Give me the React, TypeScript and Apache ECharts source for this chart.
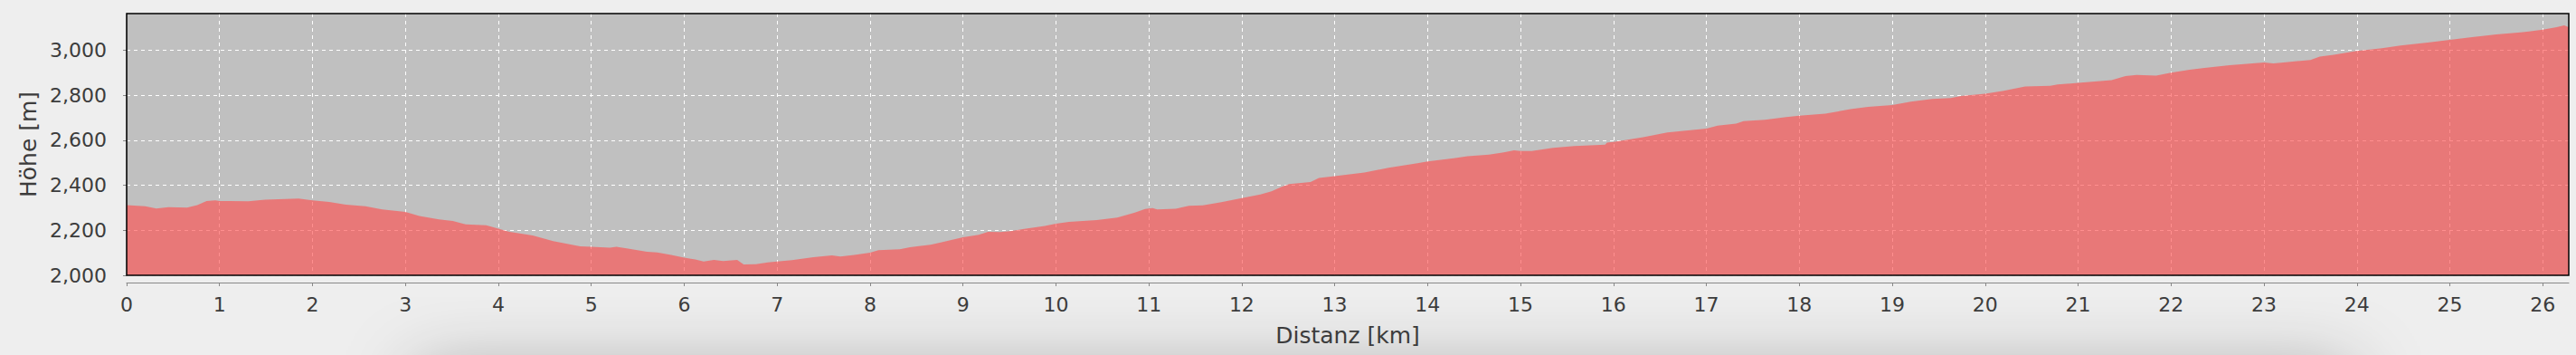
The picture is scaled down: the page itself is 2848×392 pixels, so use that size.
import React, { useEffect, useRef } from "react";
import * as echarts from "echarts";

// Distance along the route (km)
const distanceKm = [
  0, 0.2, 0.32, 0.45, 0.65, 0.76, 0.86, 0.955, 1.0, 1.31, 1.49, 1.78, 1.85, 2.0,
  2.18, 2.36, 2.57, 2.75, 3.0, 3.15, 3.36, 3.51, 3.65, 3.87, 4.0, 4.12, 4.37, 4.59,
  4.88, 5.0, 5.2, 5.27, 5.38, 5.6, 5.71, 5.86, 6.0, 6.12, 6.21, 6.32, 6.42, 6.57,
  6.64, 6.77, 6.9, 7.0, 7.16, 7.39, 7.59, 7.68, 7.83, 8.0, 8.09, 8.32, 8.43, 8.65,
  8.76, 9.0, 9.17, 9.27, 9.4, 9.51, 9.66, 9.88, 10.0, 10.14, 10.44, 10.66, 10.85,
  10.96, 11.04, 11.09, 11.29, 11.43, 11.58, 11.78, 12.0, 12.2, 12.32, 12.43, 12.51,
  12.74, 12.83, 13.0, 13.32, 13.58, 13.89, 14.0, 14.28, 14.43, 14.66, 14.82, 14.93,
  15.0, 15.12, 15.35, 15.58, 15.91, 15.93, 16.0, 16.32, 16.58, 17.0, 17.12, 17.32,
  17.4, 17.63, 17.86, 18.0, 18.28, 18.55, 18.74, 19.0, 19.2, 19.43, 19.63, 19.74,
  20.0, 20.2, 20.43, 20.7, 20.78, 21.0, 21.36, 21.51, 21.63, 21.84, 22.0, 22.2,
  22.36, 22.63, 23.0, 23.1, 23.21, 23.39, 23.5, 23.6, 23.75, 24.0, 24.27, 24.47,
  24.76, 25.0, 25.24, 25.5, 25.76, 26.0, 26.15, 26.23, 26.28,
];

// Elevation (m)
const elevationM = [
  2312, 2307, 2297, 2303, 2301, 2312, 2330, 2333, 2330, 2329, 2336, 2340, 2341, 2333,
  2326, 2314, 2307, 2293, 2282, 2264, 2248, 2241, 2226, 2222, 2207, 2193, 2177, 2152,
  2129, 2127, 2123, 2127, 2120, 2105, 2102, 2091, 2078, 2070, 2061, 2068, 2063, 2068,
  2048, 2049, 2057, 2061, 2067, 2080, 2089, 2084, 2091, 2101, 2112, 2116, 2125, 2136,
  2146, 2169, 2180, 2193, 2192, 2196, 2206, 2219, 2229, 2237, 2245, 2257, 2279,
  2295, 2299, 2293, 2296, 2309, 2311, 2325, 2343, 2359, 2373, 2393, 2405,
  2414, 2433, 2441, 2457, 2478, 2498, 2506, 2520, 2529, 2536, 2546, 2555,
  2552, 2552, 2566, 2574, 2580, 2590, 2593, 2614, 2635, 2652, 2665, 2674,
  2685, 2691, 2703, 2709, 2718, 2738, 2749, 2757, 2772, 2784, 2788, 2797,
  2807, 2820, 2839, 2842, 2848, 2855, 2867, 2885, 2890, 2887, 2900, 2914,
  2922, 2934, 2946, 2942, 2946, 2953, 2957, 2972, 2980, 2997, 3009, 3021,
  3034, 3046, 3058, 3070, 3079, 3092, 3103, 3111, 3103,
];

const xTicks = Array.from({ length: 27 }, (_, i) => i); // 0..26 km
const yTicks = [2000, 2200, 2400, 2600, 2800, 3000];

const X_MIN = 0;
const X_MAX = 26.28;
const Y_MIN = 2000;
const Y_MAX = 3163;

const FONT = "DejaVu Sans";
const TEXT = "#3c3c3c";
const AXIS = "#888888";

export default function App() {
  const ref = useRef<HTMLDivElement>(null);

  useEffect(() => {
    if (!ref.current) return;
    const chart = echarts.init(ref.current, undefined, { renderer: "svg" });
    const GL = 140, GT = 15, GR = 8, GB = 88;
    const W = 2848, H = 392;
    chart.setOption({
      animation: false,
      backgroundColor: "#eeeeee",
      grid: {
        left: GL,
        top: GT,
        right: GR,
        bottom: GB,
        show: true,
        backgroundColor: "#c0c0c0",
        borderWidth: 0,
      },
      xAxis: {
        type: "value",
        min: X_MIN,
        max: X_MAX,
        interval: 1,
        offset: 8,
        name: "Distanz [km]",
        nameLocation: "middle",
        nameGap: 46,
        nameTextStyle: { fontFamily: FONT, fontSize: 25, color: TEXT },
        axisLine: { show: true, lineStyle: { color: AXIS, width: 1 } },
        axisTick: { show: true, length: 4, lineStyle: { color: AXIS }, customValues: xTicks },
        axisLabel: {
          fontFamily: FONT,
          fontSize: 22,
          color: TEXT,
          margin: 13,
          customValues: xTicks,
        },
        splitLine: { show: true, lineStyle: { color: "#ffffff", width: 1, type: [4, 4] } },
      },
      yAxis: {
        type: "value",
        min: Y_MIN,
        max: Y_MAX,
        interval: 200,
        offset: 8,
        name: "Höhe [m]",
        nameLocation: "middle",
        nameGap: 88,
        nameTextStyle: { fontFamily: FONT, fontSize: 25, color: TEXT },
        axisLine: { show: true, lineStyle: { color: AXIS, width: 1 } },
        axisTick: { show: true, length: 4, lineStyle: { color: AXIS }, customValues: yTicks },
        axisLabel: {
          fontFamily: FONT,
          fontSize: 22,
          color: TEXT,
          margin: 14,
          customValues: yTicks,
          formatter: (v: number) => v.toLocaleString("en-US"),
        },
        splitLine: { show: true, lineStyle: { color: "#ffffff", width: 1, type: [4, 4] } },
      },
      graphic: [
        {
          type: "rect",
          z: -10,
          silent: true,
          shape: { x: 460, y: 408, width: 2140, height: 80 },
          style: {
            fill: "#aaaaaa",
            shadowBlur: 80,
            shadowColor: "rgba(0, 0, 0, 0.3)",
          },
        },
        {
          type: "rect",
          z: 100,
          silent: true,
          shape: { x: GL, y: GT, width: W - GL - GR, height: H - GT - GB },
          style: { fill: "none", stroke: "#000000", lineWidth: 1.5 },
        },
      ],
      series: [
        {
          type: "line",
          data: distanceKm.map((d, i) => [d, elevationM[i]]),
          symbol: "none",
          lineStyle: { width: 0, opacity: 0 },
          areaStyle: { color: "rgb(255, 79, 79)", opacity: 0.635, origin: "start" },
        },
      ],
    });
    return () => chart.dispose();
  }, []);

  return (
    <div
      ref={ref}
      style={{ position: "fixed", left: 0, top: 0, width: 2848, height: 392 }}
    />
  );
}
